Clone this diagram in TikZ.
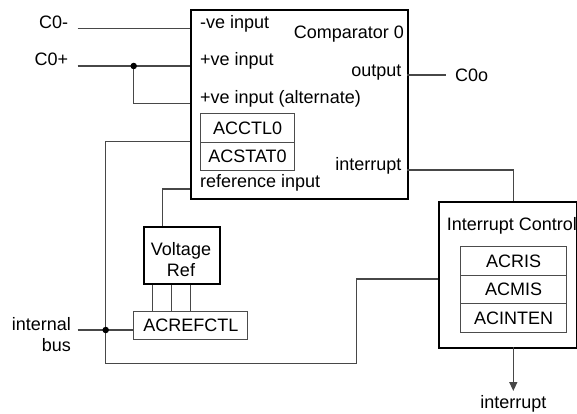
\documentclass[tikz,border=0pt]{standalone}
\usepackage{fontspec}
\setmainfont{Liberation Sans}
\usetikzlibrary{arrows.meta,calc}
\begin{document}
\begin{tikzpicture}[x=1pt,y=-1pt,
  font=\fontsize{18}{21}\selectfont,
  big/.style={draw=black, line width=2pt, inner sep=0, anchor=north west},
  reg/.style={draw=black!70, line width=1.1pt, inner sep=0, anchor=north west},
  wire/.style={draw=black!72, line width=1.3pt},
  lbl/.style={inner sep=0},
  dot/.style={circle, fill=black, inner sep=0, minimum size=6.5pt}]
\useasboundingbox (0,0) rectangle (577,414);

% main boxes
\node[big, minimum width=217pt, minimum height=189pt] (cmp) at (190,9) {};
\node[big, minimum width=138pt, minimum height=146pt] (ic) at (438,201) {};
\node[big, minimum width=75.7pt, minimum height=57pt] (vr) at (143.3,226) {};

% registers
\node[reg, minimum width=94.6pt, minimum height=28.4pt] (acctl) at (199.7,113.3) {ACCTL0};
\node[reg, minimum width=94.6pt, minimum height=28.3pt] (acstat) at (199.7,141.7) {ACSTAT0};
\node[reg, minimum width=105.4pt, minimum height=28.4pt] (acris) at (460.3,246.3) {ACRIS};
\node[reg, minimum width=105.4pt, minimum height=28.3pt] (acmis) at (460.3,274.7) {ACMIS};
\node[reg, minimum width=105.4pt, minimum height=28.7pt] (acinten) at (460.3,303) {ACINTEN};
\node[reg, minimum width=114pt, minimum height=28.3pt] (acref) at (133.3,311) {ACREFCTL};

% labels inside comparator
\node[lbl, anchor=base west] (lneg) at (200,28.3) {-ve input};
\node[lbl, anchor=base east] (lcmp) at (404,38.3) {Comparator 0};
\node[lbl, anchor=base west] (lpos) at (200,66) {+ve input};
\node[lbl, anchor=base east] (lout) at (401.7,76.7) {output};
\node[lbl, anchor=base west] (lalt) at (200,103.3) {+ve input (alternate)};
\node[lbl, anchor=base east] (lint) at (401.7,170) {interrupt};
\node[lbl, anchor=base west] (lref) at (200,187.7) {reference input};
% other labels
\node[lbl, anchor=base west] (lic) at (446.7,230) {Interrupt Control};
\node[lbl, anchor=base] (lv1) at (181,255) {Voltage};
\node[lbl, anchor=base] (lv2) at (181,276.7) {Ref};
\node[lbl, anchor=base east] (tc0m) at (68.3,28.3) {C0-};
\node[lbl, anchor=base east] (tc0p) at (68.3,66) {C0+};
\node[lbl, anchor=west] (tc0o) at (455,75.8) {C0o};
\node[lbl, anchor=base east] (tib1) at (71,330.7) {internal};
\node[lbl, anchor=base east] (tib2) at (71,351.7) {bus};
\node[lbl, anchor=base] (tirq) at (513.3,408) {interrupt};

% pin coordinates
\coordinate (c0mstart) at (77.7,28.3);
\coordinate (c0pstart) at (77.7,66);
\coordinate (altin) at (190,103.7);
\coordinate (busin) at (190,141.7);
\coordinate (refin) at (190,189);
\coordinate (outpin) at (407,75);
\coordinate (outend) at (445.7,75);
\coordinate (intpin) at (407,170);
\coordinate (ictop) at (513.3,201);
\coordinate (icbot) at (513.3,347);
\coordinate (irqend) at (513.3,391);
\coordinate (icleft) at (438,279);
\coordinate (ibstart) at (77.7,330);
\coordinate (busx) at (105.7,330);
\coordinate (jp) at (133.7,66);

% wires
\draw[wire] (c0mstart) -- (c0mstart -| cmp.west);
\draw[wire] (c0pstart) -- (c0pstart -| cmp.west);
\draw[wire] (jp) |- (altin);
\node[dot] (d1) at (jp) {};
\draw[wire] (outpin) -- (outend);
\draw[wire] (intpin) -| (ictop);
\draw[wire, -{Triangle[width=8pt,length=9pt]}] (icbot) -- (irqend);
\draw[wire] (icleft) -| (356.7,363.7) -| (105.7,141.7) -- (busin);
\draw[wire] (ibstart) -- (ibstart -| acref.west);
\node[dot] (d2) at (busx) {};
\foreach \dx in {9.4,28.4,47.4}
  \draw[wire] ($(vr.south west)+(\dx,0)$) coordinate (t) -- (t |- acref.north);
\draw[wire] ($(vr.north west)+(19,0)$) |- (refin);
\end{tikzpicture}
\end{document}
